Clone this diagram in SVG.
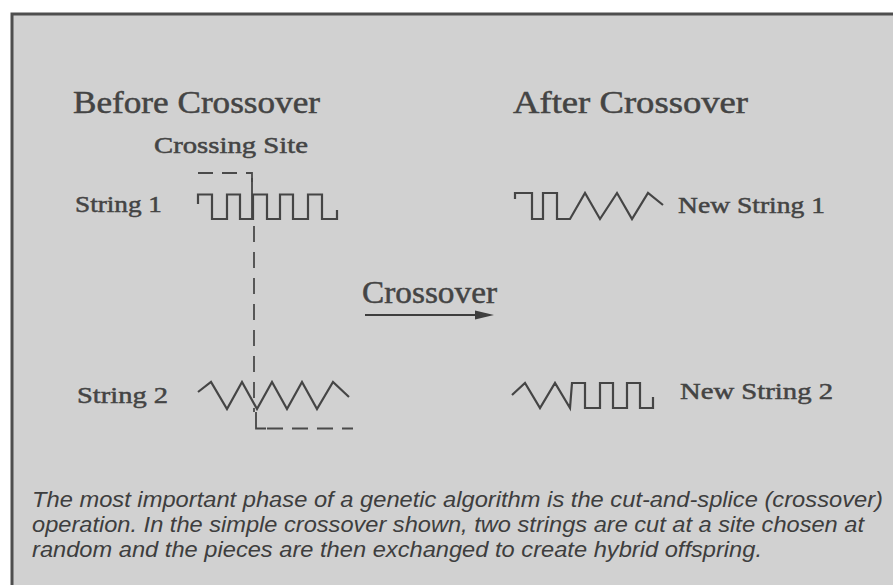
<svg xmlns="http://www.w3.org/2000/svg" width="893" height="585" viewBox="0 0 893 585">
<defs>
<style>
.serif{font-family:"Liberation Serif","DejaVu Serif",serif;fill:#444444;stroke:#444444;stroke-width:0.5;}
.h{font-size:31px;}
.lbl{font-size:24px;}
.cap{font-family:"Liberation Sans",Arial,sans-serif;font-style:italic;font-size:22px;fill:#3e3e3e;}
.wave{fill:none;stroke:#454545;stroke-width:2.2;stroke-linejoin:miter;}
.dash{fill:none;stroke:#4a4a4a;stroke-width:1.8;stroke-dasharray:15 9;}
</style>
</defs>
<rect x="0" y="0" width="893" height="585" fill="#ffffff"/>
<rect x="12" y="14" width="890" height="580" fill="#d1d1d1" stroke="#4e4e4e" stroke-width="3"/>

<g id="titles">
<text class="serif h" x="73" y="113" textLength="247" lengthAdjust="spacingAndGlyphs">Before Crossover</text>
<text class="serif h" x="513" y="113" textLength="235" lengthAdjust="spacingAndGlyphs">After Crossover</text>
</g>

<g id="crossing-site">
<text class="serif lbl" x="154" y="153" textLength="154" lengthAdjust="spacingAndGlyphs">Crossing Site</text>
</g>

<g id="string1">
<text class="serif lbl" x="75" y="212" textLength="87" lengthAdjust="spacingAndGlyphs">String 1</text>
<path class="wave" d="M198,204 V194.5 H212 V219 H227 V194.5 H240 V219 H253 V194.5 H267 V219 H280 V194.5 H293 V219 H308 V194.5 H322 V219 H337 V210"/>
</g>

<g id="string2">
<text class="serif lbl" x="77" y="403" textLength="91" lengthAdjust="spacingAndGlyphs">String 2</text>
<path class="wave" d="M198,392 L211,382 L227,409 L242,382 L257,409 L272,382 L287,409 L302,382 L317,409 L333,382 L349,397"/>
</g>

<g id="new-string1">
<path class="wave" d="M515,199 V193 H532 V219 H543 V193 H557 V219 H570 L585,193 L600,219 L617,193 L632,219 L648,193 L663,205"/>
<text class="serif lbl" x="678" y="213" textLength="147" lengthAdjust="spacingAndGlyphs">New String 1</text>
</g>

<g id="new-string2">
<path class="wave" d="M512,395 L525,383 L540,408 L555,383 L570,408 L572,383 H585 V408 H600 V383 H613 V408 H627 V383 H640 V408 H653 V397"/>
<text class="serif lbl" x="680" y="399" textLength="153" lengthAdjust="spacingAndGlyphs">New String 2</text>
</g>

<g id="connectors">
<path class="dash" d="M198,173 H252 V183"/>
<path class="wave" d="M252,178 V219" style="stroke-width:1.8"/>
<path class="dash" d="M254,226 V412" style="stroke-dasharray:16 10"/>
<path class="wave" d="M256,412 V428.5 H266" style="stroke-width:1.8"/>
<path class="dash" d="M267,428.5 H353" style="stroke-dasharray:16 9"/>
<line x1="365" y1="315" x2="478" y2="315" stroke="#3e3e3e" stroke-width="2.2"/>
<polygon points="475,310.5 494,315 475,319.5" fill="#3e3e3e"/>
</g>

<g id="crossover-label">
<text class="serif" x="362" y="303" font-size="32" textLength="135" lengthAdjust="spacingAndGlyphs">Crossover</text>
</g>

<g id="caption">
<text class="cap" x="32" y="507" textLength="851" lengthAdjust="spacingAndGlyphs">The most important phase of a genetic algorithm is the cut-and-splice (crossover)</text>
<text class="cap" x="32" y="532" textLength="832" lengthAdjust="spacingAndGlyphs">operation. In the simple crossover shown, two strings are cut at a site chosen at</text>
<text class="cap" x="32" y="557" textLength="730" lengthAdjust="spacingAndGlyphs">random and the pieces are then exchanged to create hybrid offspring.</text>
</g>
</svg>
